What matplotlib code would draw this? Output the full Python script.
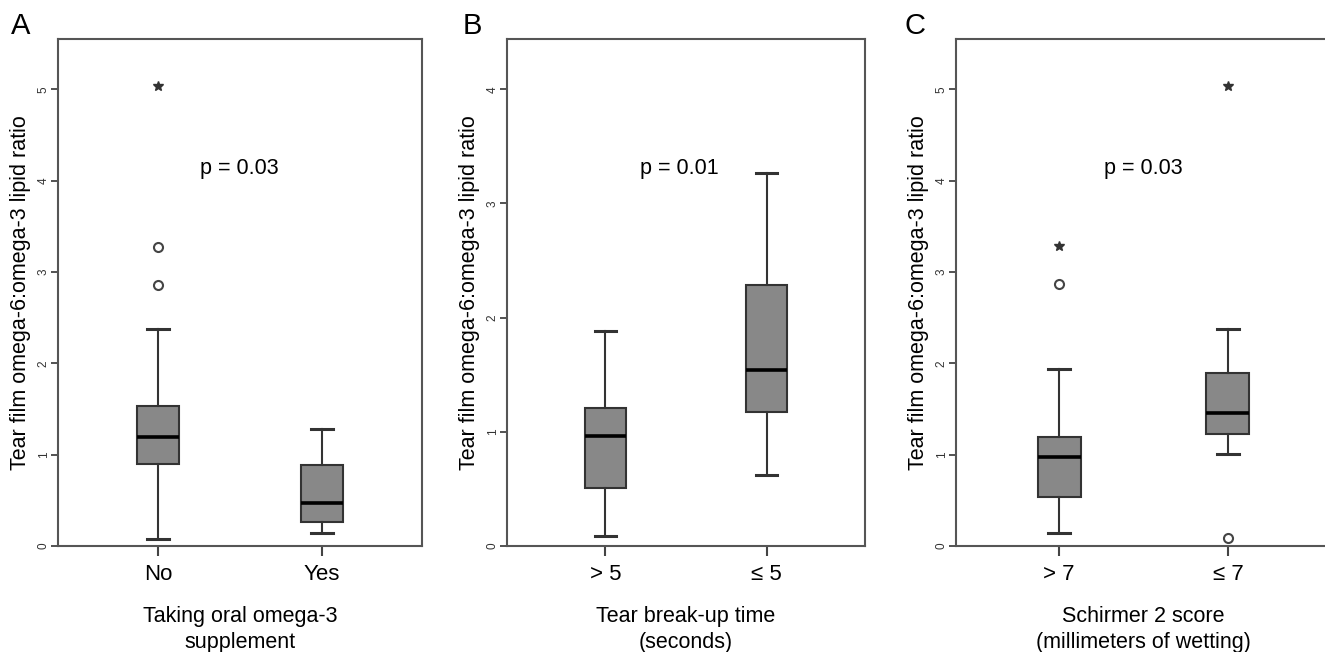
import matplotlib.pyplot as plt

plt.rcParams['font.family'] = ['Liberation Sans', 'DejaVu Sans']

# panel A: oral omega-3 supplement
a_groups = ['No', 'Yes']
a_whislo = [0.08, 0.14]
a_q1 = [0.90, 0.26]
a_med = [1.19, 0.47]
a_q3 = [1.535, 0.89]
a_whishi = [2.37, 1.28]
a_circles = [[3.27, 2.86], []]
a_stars = [[5.04], []]

# panel B: tear break-up time
b_groups = ['> 5', '≤ 5']
b_whislo = [0.09, 0.62]
b_q1 = [0.51, 1.17]
b_med = [0.96, 1.54]
b_q3 = [1.21, 2.29]
b_whishi = [1.88, 3.27]
b_circles = [[], []]
b_stars = [[], []]

# panel C: Schirmer 2 score
c_groups = ['> 7', '≤ 7']
c_whislo = [0.14, 1.01]
c_q1 = [0.54, 1.23]
c_med = [0.97, 1.46]
c_q3 = [1.19, 1.89]
c_whishi = [1.94, 2.37]
c_circles = [[2.87], [0.09]]
c_stars = [[3.28], [5.04]]

ylabel = 'Tear film omega-6:omega-3 lipid ratio'
edge = '#333333'


def draw_panel(ax, groups, whislo, q1, med, q3, whishi, circles, stars,
               ymax, yticks, pval, px, xlabel):
    stats = []
    for i in range(len(groups)):
        stats.append(dict(label=groups[i], whislo=whislo[i], q1=q1[i], med=med[i],
                          q3=q3[i], whishi=whishi[i], fliers=[]))
    ax.bxp(stats, positions=[1, 2], widths=0.255, patch_artist=True, showfliers=False,
           boxprops=dict(facecolor='#888888', edgecolor=edge, linewidth=1.5),
           whiskerprops=dict(color=edge, linewidth=1.5),
           capprops=dict(color=edge, linewidth=2.2),
           medianprops=dict(color='black', linewidth=2.6),
           capwidths=0.13)
    for i in range(len(groups)):
        if circles[i]:
            ax.plot([i + 1] * len(circles[i]), circles[i], 'o', mfc='white', mec='#444444',
                    mew=1.5, ms=6.5, linestyle='none')
        if stars[i]:
            ax.plot([i + 1] * len(stars[i]), stars[i], '*', color='#333333', ms=7,
                    linestyle='none')

    ax.set_xlim(0.39, 2.61)
    ax.set_ylim(0, ymax)
    ax.set_yticks(yticks)
    ax.set_yticklabels([str(t) for t in yticks], rotation=90, va='center', fontsize=8.5,
                       color='#333333')
    ax.tick_params(axis='y', length=5, width=1.3, color='#444444', pad=1)
    ax.tick_params(axis='x', length=7, width=1.5, color='#444444', labelsize=16, pad=6)
    for sp in ax.spines.values():
        sp.set_color('#555555')
        sp.set_linewidth(1.5)
    ax.set_ylabel(ylabel, fontsize=15.5, labelpad=5)
    ax.set_xlabel(xlabel, fontsize=15.5, labelpad=15, linespacing=1.3)
    ax.text(px, 0.745, pval, transform=ax.transAxes, ha='center', va='center', fontsize=15.5)
    return ax


W, H = 1325, 652
fig = plt.figure(figsize=(W / 100, H / 100), dpi=100)

def px_axes(left, right, top, bottom):
    return fig.add_axes([left / W, (H - bottom) / H, (right - left) / W, (bottom - top) / H])

axA = px_axes(58, 422, 39, 546)
axB = px_axes(507, 865, 39, 546)
axC = px_axes(956, 1331, 39, 546)

draw_panel(axA, a_groups, a_whislo, a_q1, a_med, a_q3, a_whishi, a_circles, a_stars,
           5.55, [0, 1, 2, 3, 4, 5], 'p = 0.03', 0.497, 'Taking oral omega-3\nsupplement')
draw_panel(axB, b_groups, b_whislo, b_q1, b_med, b_q3, b_whishi, b_circles, b_stars,
           4.44, [0, 1, 2, 3, 4], 'p = 0.01', 0.48, 'Tear break-up time\n(seconds)')
draw_panel(axC, c_groups, c_whislo, c_q1, c_med, c_q3, c_whishi, c_circles, c_stars,
           5.55, [0, 1, 2, 3, 4, 5], 'p = 0.03', 0.50, 'Schirmer 2 score\n(millimeters of wetting)')

for x, letter in [(21, 'A'), (472, 'B'), (915, 'C')]:
    fig.text(x / W, 1 - 26 / H, letter, fontsize=21, ha='center', va='center')

fig.savefig('out.png', dpi=100)
